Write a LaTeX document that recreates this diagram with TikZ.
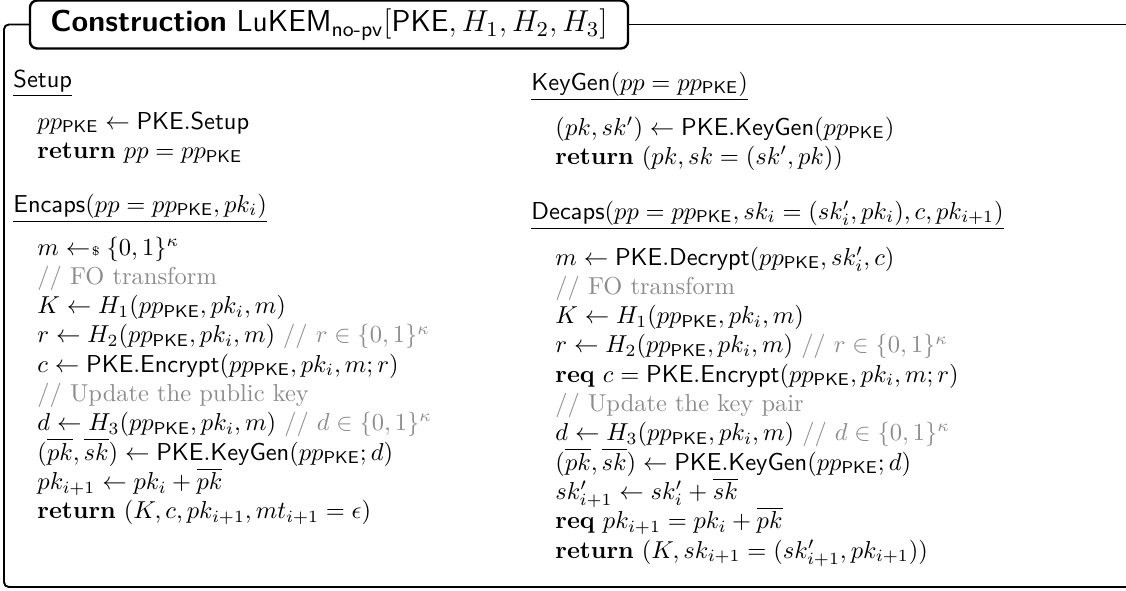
\RequirePackage{fix-cm}
\documentclass[tikz,border=0pt]{standalone}
\usepackage{amsmath}
\usepackage{xcolor}
\definecolor{cmtgray}{rgb}{0.55,0.55,0.55}
\newcommand{\smp}{\mathrel{\leftarrow\mkern-4mu{\scriptscriptstyle\$}}}
\newcommand{\cmt}[1]{{\color{cmtgray}//~#1}}
\newcommand{\ppk}{pp_{\mathsf{PKE}}}
\begin{document}
\begin{tikzpicture}[x=0.416667pt,y=-0.416667pt,
  every node/.style={font=\fontsize{10.2}{12.2}\selectfont},
  ln/.style={anchor=base west, inner sep=0pt},
  frame/.style={line width=0.8pt, rounded corners=2pt},
  titlebox/.style={draw, line width=1pt, rounded corners=3pt,
    minimum width=249.2pt, minimum height=20pt, inner sep=0pt, fill=white,
    font=\fontsize{12.6}{15}\selectfont}]
\useasboundingbox (0,0) rectangle (1126,590);
% frame
\node[titlebox] (title) at (329,24.5)
  {\textsf{\textbf{Construction}} $\mathsf{LuKEM}_{\textsf{no-pv}}[\mathsf{PKE}, H_1, H_2, H_3]$};
\draw[frame] (title.west) -- (4,24.5) -- (4,587) -- (1140,587);
\draw[line width=0.8pt] (title.east) -- (1140,24.5);
% left column: Setup
\node[ln] (setuph) at (13,87) {$\underline{\mathsf{Setup}}$};
\node[ln] (s1) at (37,129) {$\ppk \leftarrow \mathsf{PKE.Setup}$};
\node[ln] (s2) at (37,158.5) {$\mathbf{return}\ pp = \ppk$};
% left column: Encaps
\node[ln] (ench) at (13,212) {$\underline{\mathsf{Encaps}(pp = \ppk, pk_i)}$};
\node[ln] (e1) at (37,255) {$m \smp \{0,1\}^\kappa$};
\node[ln] (e2) at (37,284.3) {\cmt{FO transform}};
\node[ln] (e3) at (37,313.6) {$K \leftarrow H_1(\ppk, pk_i, m)$};
\node[ln] (e4) at (37,342.9) {$r \leftarrow H_2(\ppk, pk_i, m)$ \cmt{$r \in \{0,1\}^\kappa$}};
\node[ln] (e5) at (37,372.2) {$c \leftarrow \mathsf{PKE.Encrypt}(\ppk, pk_i, m; r)$};
\node[ln] (e6) at (37,401.5) {\cmt{Update the public key}};
\node[ln] (e7) at (37,430.8) {$d \leftarrow H_3(\ppk, pk_i, m)$ \cmt{$d \in \{0,1\}^\kappa$}};
\node[ln] (e8) at (37,460.1) {$(\overline{pk}, \overline{sk}) \leftarrow \mathsf{PKE.KeyGen}(\ppk; d)$};
\node[ln] (e9) at (37,489.4) {$pk_{i+1} \leftarrow pk_i + \overline{pk}$};
\node[ln] (e10) at (37,518.7) {$\mathbf{return}\ (K, c, pk_{i+1}, mt_{i+1} = \epsilon)$};
% right column: KeyGen
\node[ln] (kgh) at (531,90) {$\underline{\mathsf{KeyGen}(pp = \ppk)}$};
\node[ln] (k1) at (555,135) {$(pk, sk') \leftarrow \mathsf{PKE.KeyGen}(\ppk)$};
\node[ln] (k2) at (555,164) {$\mathbf{return}\ (pk, sk = (sk', pk))$};
% right column: Decaps
\node[ln] (dech) at (531,219) {$\underline{\mathsf{Decaps}(pp = \ppk, sk_i = (sk'_i, pk_i), c, pk_{i+1})}$};
\node[ln] (d1) at (555,265) {$m \leftarrow \mathsf{PKE.Decrypt}(\ppk, sk'_i, c)$};
\node[ln] (d2) at (555,294.3) {\cmt{FO transform}};
\node[ln] (d3) at (555,323.6) {$K \leftarrow H_1(\ppk, pk_i, m)$};
\node[ln] (d4) at (555,352.9) {$r \leftarrow H_2(\ppk, pk_i, m)$ \cmt{$r \in \{0,1\}^\kappa$}};
\node[ln] (d5) at (555,382.2) {$\mathbf{req}\ c = \mathsf{PKE.Encrypt}(\ppk, pk_i, m; r)$};
\node[ln] (d6) at (555,411.5) {\cmt{Update the key pair}};
\node[ln] (d7) at (555,440.8) {$d \leftarrow H_3(\ppk, pk_i, m)$ \cmt{$d \in \{0,1\}^\kappa$}};
\node[ln] (d8) at (555,470.1) {$(\overline{pk}, \overline{sk}) \leftarrow \mathsf{PKE.KeyGen}(\ppk; d)$};
\node[ln] (d9) at (555,499.4) {$sk'_{i+1} \leftarrow sk'_i + \overline{sk}$};
\node[ln] (d10) at (555,528.7) {$\mathbf{req}\ pk_{i+1} = pk_i + \overline{pk}$};
\node[ln] (d11) at (555,558) {$\mathbf{return}\ (K, sk_{i+1} = (sk'_{i+1}, pk_{i+1}))$};
\end{tikzpicture}
\end{document}
